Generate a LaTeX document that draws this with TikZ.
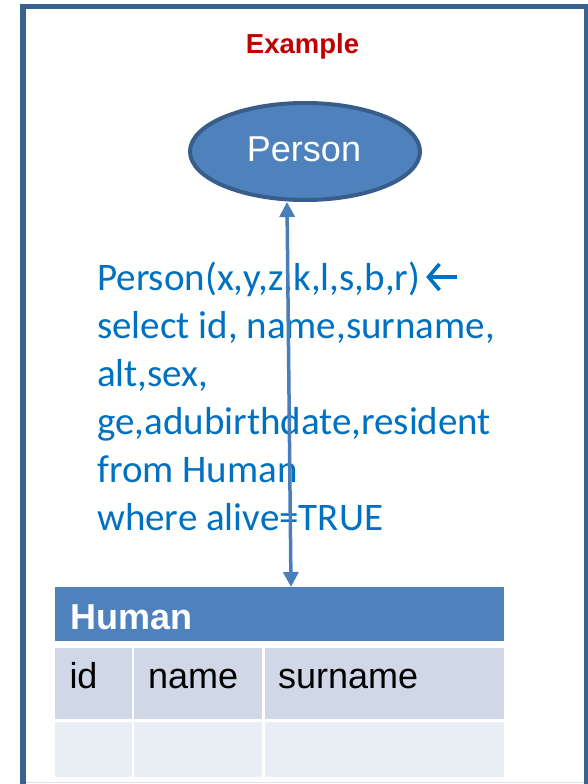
\documentclass[tikz,border=0pt]{standalone}
\usepackage{fontspec}
\setmainfont{Liberation Sans}
\newfontfamily\calfont{Carlito}
\usetikzlibrary{arrows.meta,shapes.geometric}
\definecolor{framec}{HTML}{3A6190}
\definecolor{ellfill}{HTML}{4F81BD}
\definecolor{elldraw}{HTML}{385D8A}
\definecolor{arrc}{HTML}{4A7EBB}
\definecolor{txtblue}{HTML}{0070C0}
\definecolor{redc}{HTML}{C00000}
\definecolor{rowa}{HTML}{D0D8E8}
\definecolor{rowb}{HTML}{E9EDF4}
\definecolor{lightline}{HTML}{DCE0EA}
\tikzset{
  codeline/.style={anchor=base west, inner sep=0pt, text=txtblue, font=\calfont\fontsize{39}{48}\selectfont},
  celltext/.style={anchor=base west, inner sep=0pt, text=black, font=\fontsize{36}{40}\selectfont},
  linkarrow/.style={draw=arrc, line width=3.5pt, {Triangle[length=15pt,width=15pt]}-{Triangle[length=15pt,width=15pt]}},
  symarrow/.style={draw=txtblue, line width=3.6pt, line join=miter, line cap=butt}
}
\begin{document}
\begin{tikzpicture}[x=1pt,y=-1pt]
\useasboundingbox (0,0) rectangle (587,784);
% light edge line at bottom
\draw[lightline, line width=1.5pt] (22,782.5) -- (587,782.5);
% frame
\draw[framec, line width=5.5pt] (22.75,6.75) rectangle (586.75,800);
% title
\node[anchor=base, inner sep=0pt, text=redc, font=\bfseries\fontsize{27.5}{30}\selectfont] (title) at (302.5,54) {Example};
% ellipse
\node[ellipse, fill=ellfill, draw=elldraw, line width=4pt, minimum width=230pt, minimum height=97pt, inner sep=0pt] (person) at (305,151.5) {};
\node[anchor=base, inner sep=0pt, text=white, font=\fontsize{36}{40}\selectfont] (personlbl) at (304,161.7) {Person};
% code text
\node[codeline] (l1) at (97,290) {Person(x,y,z,k,l,s,b,r)};
\coordinate (sa) at (457,277);
\coordinate (sb) at (428.5,277);
\draw[symarrow] (sa) -- (sb);
\draw[symarrow] ([shift={(11,-13)}]sb) -- (sb) -- ([shift={(11,13)}]sb);
\node[codeline] (l2) at (97,338) {select id, name,surname,};
\node[codeline] (l3) at (97,386) {alt,sex,};
\node[codeline] (l4) at (97,434) {ge,adubirthdate,resident};
\node[codeline] (l5) at (97,482) {from Human};
\node[codeline] (l6) at (97,530) {where alive=TRUE};
% table
\fill[ellfill] (55,587) rectangle (504.3,640.5);
\coordinate (htop) at (291,587);
\node[anchor=base west, inner sep=0pt, text=white, font=\bfseries\fontsize{36}{40}\selectfont] (human) at (70,629.3) {Human};
\fill[rowa] (55,648) rectangle (132,719);
\fill[rowa] (134.3,648) rectangle (262.3,719);
\fill[rowa] (265,648) rectangle (504.3,719);
\fill[rowb] (55,721.7) rectangle (132,777.3);
\fill[rowb] (134.3,721.7) rectangle (262.3,777.3);
\fill[rowb] (265,721.7) rectangle (504.3,777.3);
\node[celltext] (cid) at (69.3,688) {id};
\node[celltext] (cname) at (148,688) {name};
\node[celltext] (csur) at (278,688) {surname};
% connector
\coordinate (etop) at (287,202);
\draw[linkarrow] (etop) -- (htop);
\end{tikzpicture}
\end{document}
